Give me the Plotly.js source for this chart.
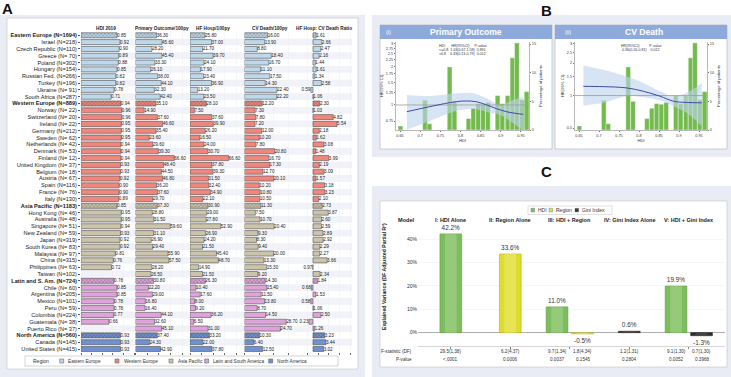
<!DOCTYPE html>
<html><head><meta charset="utf-8">
<script src="https://cdn.plot.ly/plotly-3.0.1.min.js"></script>
<style>html,body{margin:0;padding:0;background:#fff}#chart{width:731px;height:377px}</style>
</head><body><div id="chart"></div>
<script>
// ---------------- DATA ----------------
const regionNames = ['Eastern Europe','Western Europe','Asia Pacific','Latin and South America','North America'];
const rowLabels = [
 'Eastern Europe (N=1694)','Israel (N=218)','Czech Republic (N=110)','Greece (N= 70)','Poland (N=302)','Hungary (N=154)','Russian Fed. (N=266)','Turkey (N=196)','Ukraine (N= 91)','South Africa (N=287)',
 'Western Europe (N=889)','Norway (N= 22)','Switzerland (N= 20)','Ireland (N= 22)','Germany (N=212)','Sweden (N= 62)','Netherlands (N= 42)','Denmark (N= 53)','Finland (N= 12)','United Kingdom (N= 37)','Belgium (N= 18)','Austria (N= 67)','Spain (N=116)','France (N= 76)','Italy (N=130)',
 'Asia Pacific (N=1183)','Hong Kong (N= 46)','Australia (N= 48)','Singapore (N= 51)','New Zealand (N= 59)','Japan (N=319)','South Korea (N= 83)','Malaysia (N= 97)','China (N=315)','Philippines (N= 63)','Taiwan (N=102)',
 'Latin and S. Am. (N=724)','Chile (N= 60)','Argentina (N=205)','Mexico (N=101)','Peru (N= 59)','Colombia (N=224)','Guatemala (N= 38)','Puerto Rico (N= 37)',
 'North America (N=560)','Canada (N=145)','United States (N=415)'];
const rowRegion = [0,0,0,0,0,0,0,0,0,0, 1,1,1,1,1,1,1,1,1,1,1,1,1,1,1, 2,2,2,2,2,2,2,2,2,2,2, 3,3,3,3,3,3,3,3, 4,4,4];
const regionTotalRows = [0,10,25,36,44];
const hdi = [0.85,0.92,0.90,0.89,0.88,0.85,0.82,0.82,0.78,0.71, 0.94,0.96,0.96,0.95,0.95,0.95,0.94,0.94,0.94,0.93,0.93,0.92,0.90,0.90,0.89, 0.85,0.95,0.95,0.94,0.93,0.92,0.92,0.81,0.76,0.72,null, 0.78,0.85,0.85,0.78,0.78,0.77,0.66,null, 0.93,0.93,0.93];
const primaryOutcome = [36.30,45.60,28.20,45.40,33.30,26.10,38.00,44.10,32.30,42.40, 35.10,14.90,37.60,46.60,35.40,23.60,29.60,39.30,66.60,48.40,44.50,46.80,36.20,37.60,29.70, 37.30,28.80,31.50,59.60,31.10,26.90,29.40,55.90,57.50,28.20,26.50, 30.80,22.20,29.00,16.80,16.40,44.10,32.60,45.10, 37.40,24.30,42.90];
const hfHosp = [25.80,37.00,21.70,39.70,24.10,17.90,23.40,36.90,13.20,23.50, 28.10,7.50,37.60,39.90,26.20,16.50,24.00,30.70,66.60,37.80,39.30,31.50,32.40,34.90,22.10, 30.90,29.00,27.80,52.90,26.90,24.20,21.50,45.40,48.70,14.90,21.50, 26.30,10.40,17.60,8.00,9.20,36.20,6.50,31.00, 33.20,22.00,37.80];
const cvDeath = [16.00,13.90,8.80,18.40,16.70,11.10,17.50,14.30,22.40,22.20, 12.20,7.30,7.80,7.20,12.00,10.20,7.80,20.80,16.70,17.30,12.70,20.10,10.20,10.80,10.50, 11.30,7.50,10.70,20.40,9.30,8.30,9.40,20.00,13.30,15.30,9.20, 14.30,15.40,11.50,13.80,8.70,14.50,28.70,24.70, 10.30,6.40,12.50];
const hfCvRatio = [1.61,2.66,2.47,2.16,1.44,1.61,1.34,2.58,0.59,1.06, 2.30,1.03,4.82,5.54,2.18,1.62,3.08,1.48,3.99,2.19,3.09,1.57,3.18,3.23,2.10, 2.73,3.87,2.60,2.59,2.89,2.92,2.29,2.27,3.66,0.97,2.34, 1.84,0.68,1.53,0.58,1.06,2.50,0.23,1.26, 3.23,3.44,3.02];

// Panel B
const histHdi = [0.651,0.712,0.723,0.773,0.785,0.820,0.832,0.844,0.856,0.868,0.892,0.904,0.917,0.929,0.940,0.952,0.964];
const histPct = [0.7,5.2,1.1,11.0,5.0,2.0,3.8,4.6,4.5,4.8,6.0,4.6,6.0,12.6,15.2,5.3,6.7];
const poHdi = [0.667,0.70,0.73,0.76,0.79,0.815,0.84,0.865,0.89,0.915,0.94,0.956];
const poHr  = [0.887,0.935,0.98,1.025,1.062,1.075,1.06,1.0,0.935,0.885,0.857,0.846];
const poBandHdi = [0.667,0.724,0.791,0.832,0.873,0.898,0.931,0.956];
const poUpper = [1.197,1.176,1.234,1.234,1.094,1.0,1.094,1.161];
const poLower = [0.64,0.75,0.90,0.93,0.87,0.84,0.72,0.63];
const cvHdi = [0.661,0.711,0.769,0.811,0.853,0.886,0.919,0.957];
const cvHr  = [1.217,1.209,1.177,1.095,0.985,0.887,0.863,0.857];
const cvUpper = [1.897,1.73,1.50,1.31,1.095,0.985,1.06,1.31];
const cvLower = [0.81,0.857,0.985,0.965,0.90,0.798,0.694,0.52];
const hrRef = 1;

// Panel C
const models = ['I: HDI Alone','II: Region Alone','III: HDI + Region','IV: Gini Index Alone','V: HDI + Gini Index'];
const hdiR2 = [42.2, null, 11.0, null, 19.9];
const regionR2 = [null, 33.6, -0.5, null, null];
const giniR2 = [null, null, null, 0.6, -1.3];
const fStatHdi = ['29.5(1,38)', null, '9.7(1,34)', null, '9.1(1,30)'];
const pHdi = ['<.0001', null, '0.0037', null, '0.0052'];
const fStatRegion = [null, '6.2(4,37)', '1.8(4,34)', null, null];
const pRegion = [null, '0.0006', '0.1545', null, null];
const fStatGini = [null, null, null, '1.2(1,31)', '0.7(1,30)'];
const pGini = [null, null, null, '0.2804', '0.3968'];

// ---------------- LAYOUT HELPERS ----------------
const W = 731, H = 377;
const X = p => p / W;
const Y = p => 1 - p / H;
const FONT = 'Liberation Sans, Arial, sans-serif';
const regionColors = ['#bcd8ea','#ef877d','#cbc3aa','#e0a2da','#7090cf'];
const shapes = [], annotations = [];
function rect(x0, y0, x1, y1, fill, lc, lw) {
  shapes.push({type:'rect', xref:'paper', yref:'paper', x0:X(x0), x1:X(x1), y0:Y(y1), y1:Y(y0),
    fillcolor: fill, line:{color: lc || fill, width: lw || 0}, layer:'below'});
}
function ann(text, x, y, o) {
  o = o || {};
  annotations.push(Object.assign({text: text, xref:'paper', yref:'paper', x: X(x), y: Y(y),
    showarrow:false, xanchor:'center', yanchor:'middle',
    font:{family: FONT, size: 6, color:'#222'}}, o));
}

// backgrounds
rect(0, 15, 365, 377, '#e9ecf4');
rect(7, 18, 358, 369, '#ffffff', '#c4c4c4', 0.6);
rect(372, 15, 731, 157, '#e9ecf4');
rect(380, 25, 552, 149, '#ffffff', '#aab0bb', 0.6);
rect(380, 25, 552, 39, '#8eaadc');
rect(555, 25, 727, 149, '#ffffff', '#aab0bb', 0.6);
rect(555, 25, 727, 39, '#8eaadc');
rect(372, 186, 731, 377, '#e9ecf4');
rect(380, 201, 727, 367, '#ffffff', '#c4c4c4', 0.6);

// panel letters
ann('<b>A</b>', 7, 8, {font:{family:FONT, size:15, color:'#111'}});
ann('<b>B</b>', 546, 10, {font:{family:FONT, size:15, color:'#111'}});
ann('<b>C</b>', 546, 171, {font:{family:FONT, size:15, color:'#111'}});

// ---------------- PANEL A ----------------
const nRows = rowLabels.length;
const rowTop = 35.3, rowStep = 6.82;
const yDomA = [Y(rowTop + (nRows - 0.5) * rowStep), Y(rowTop - 0.5 * rowStep)];
const rowIdx = rowLabels.map((_, i) => i);
const isTotal = rowIdx.map(i => regionTotalRows.indexOf(i) >= 0);
const barColors = rowRegion.map(r => regionColors[r]);
const patShapes = isTotal.map(t => t ? 'x' : '');

// alternating light row bands
rowIdx.forEach(i => {
  if (i % 2 === 1) rect(81, rowTop + (i - 0.5) * rowStep, 352, rowTop + (i + 0.5) * rowStep, '#f1f3f9');
});

const colDefs = [
  {vals: hdi, ax: 'x', dom: [81, 134], range: [0, 1.25], head: 'HDI 2019', hx: 106, dt: 0.25},
  {vals: primaryOutcome, ax: 'x2', dom: [135.5, 188.5], range: [0, 91], head: 'Primary Outcome/100py', hx: 162, dt: 20},
  {vals: hfHosp, ax: 'x3', dom: [190, 243], range: [0, 91], head: 'HF Hosp/100py', hx: 213, dt: 20},
  {vals: cvDeath, ax: 'x4', dom: [244.5, 297.5], range: [0, 36.5], head: 'CV Death/100py', hx: 269.5, dt: 10},
  {vals: hfCvRatio, ax: 'x5', dom: [299, 352], range: [-1.64, 8.36], head: 'HF Hosp: CV Death Ratio', hx: 323.5, dt: 2, base: 1}
];
const traces = [];
const layout = {
  width: W, height: H, margin: {l:0, r:0, t:0, b:0},
  paper_bgcolor: 'rgba(0,0,0,0)', plot_bgcolor: 'rgba(0,0,0,0)',
  showlegend: false, font: {family: FONT}, bargap: 0.2
};
colDefs.forEach((c, k) => {
  const base = c.base || 0;
  traces.push({
    type:'bar', orientation:'h', xaxis: c.ax, yaxis:'y',
    y: rowIdx, x: c.vals.map(v => v == null ? null : v - base), base: base,
    width: 0.74,
    marker: {color: barColors, line:{color:'#505050', width:0.6},
      pattern:{shape: patShapes, fillmode:'overlay', fgcolor:'#444', size:2.6, solidity:0.4}},
    text: c.vals.map(v => v == null ? '' : v.toFixed(2)),
    textposition:'outside', constraintext:'none', cliponaxis:false,
    textfont:{family:FONT, size:4.6, color:'#222'}, hoverinfo:'skip'
  });
  const axName = k === 0 ? 'xaxis' : 'xaxis' + (k + 1);
  layout[axName] = {domain:[X(c.dom[0]), X(c.dom[1])], range: c.range, anchor:'y',
    showticklabels:false, ticks:'outside', ticklen:2, tickcolor:'#666', dtick: c.dt,
    tick0: 0, showgrid:true, gridcolor:'#eceef3', gridwidth:0.5, zeroline:false, showline:false, fixedrange:true};
  ann('<b>' + c.head + '</b>', c.hx, 29, {font:{family:FONT, size:4.7, color:'#222'}});
});
layout.yaxis = {domain: yDomA, range:[nRows - 0.5, -0.5], anchor:'x',
  tickvals: rowIdx, ticktext: rowLabels.map((t, i) => isTotal[i] ? '<b>' + t + '</b>' : t),
  tickfont:{family:FONT, size:5.6, color:'#1a1a1a'}, ticks:'outside', ticklen:2, tickcolor:'#555',
  showgrid:false, zeroline:false, showline:false, fixedrange:true};

// Panel A legend
rect(25, 356, 338, 366, '#ffffff', '#b8b8b8', 0.6);
ann('Region', 31, 361, {xanchor:'left', font:{family:FONT, size:5, color:'#333'}});
const legX = [61.7, 117, 171, 206.7, 270.7];
regionNames.forEach((n, i) => {
  rect(legX[i] - 2, 359, legX[i] + 2, 363, regionColors[i], '#555', 0.5);
  ann(n, legX[i] + 4.5, 361, {xanchor:'left', font:{family:FONT, size:4.7, color:'#333'}});
});

// ---------------- PANEL B ----------------
function panelB(idx, xName, yPct, yHr, dom, hrRange, hrTicks, title, numeral, curveX, curveY, bx, bu, bl, textLines) {
  const xa = 'x' + idx, yp = 'y' + yPct, yh = 'y' + yHr;
  traces.push({type:'bar', xaxis: xa, yaxis: yp, x: histHdi, y: histPct, width: 0.0118,
    marker:{color:'#74bb4f', line:{color:'#ffffff', width:0.4}}, hoverinfo:'skip'});
  traces.push({type:'scatter', mode:'lines', xaxis: xa, yaxis: yh, x: bx, y: bl,
    line:{color:'rgba(0,0,0,0)', width:0, shape:'spline'}, hoverinfo:'skip'});
  traces.push({type:'scatter', mode:'lines', xaxis: xa, yaxis: yh, x: bx, y: bu, fill:'tonexty',
    fillcolor:'rgba(190,212,238,0.62)', line:{color:'rgba(0,0,0,0)', width:0, shape:'spline'}, hoverinfo:'skip'});
  traces.push({type:'scatter', mode:'lines', xaxis: xa, yaxis: yh, x: [0.64, 0.97], y: [hrRef, hrRef],
    line:{color:'#9a9a9a', width:0.8}, hoverinfo:'skip'});
  traces.push({type:'scatter', mode:'lines', xaxis: xa, yaxis: yh, x: curveX, y: curveY,
    line:{color:'#3d4aa8', width:1, shape:'spline'}, hoverinfo:'skip'});
  const tf = {family:FONT, size:3.8, color:'#333'};
  layout[xName] = {domain:[X(dom[0]), X(dom[1])], range:[0.64, 0.97], anchor: yp,
    tickvals:[0.65,0.7,0.75,0.8,0.85,0.9,0.95], ticktext:['0.65','0.7','0.75','0.8','0.85','0.9','0.95'],
    tickfont: tf, ticks:'outside', ticklen:1.5, tickcolor:'#777', showline:true, linecolor:'#888', linewidth:0.6,
    showgrid:false, zeroline:false, fixedrange:true,
    title:{text:'HDI', font:{family:FONT, size:4.2, color:'#333'}, standoff:2}};
  layout['yaxis' + yPct] = {domain:[Y(130), Y(42)], range:[0, 15.35], anchor: xa, side:'right',
    tickvals:[0,5,10,15], tickfont: tf, ticks:'outside', ticklen:1.5, tickcolor:'#777',
    showline:true, linecolor:'#888', linewidth:0.6, showgrid:false, zeroline:false, fixedrange:true,
    title:{text:'Percentage of patients', font:{family:FONT, size:4.2, color:'#333'}, standoff:3}};
  layout['yaxis' + yHr] = {overlaying: yp, anchor: xa, side:'left', type:'log',
    range:[Math.log10(hrRange[0]), Math.log10(hrRange[1])], tickvals: hrTicks, ticktext: hrTicks.map(String),
    tickfont: tf, ticks:'outside', ticklen:1.5, tickcolor:'#777', showline:true, linecolor:'#888', linewidth:0.6,
    showgrid:false, zeroline:false, fixedrange:true,
    title:{text:'HR(95% CI)', font:{family:FONT, size:4.2, color:'#333'}, standoff:2}};
  const cx = (dom[0] + dom[1]) / 2;
  ann('<b>' + title + '</b>', (dom[0] + dom[1]) / 2 + 3, 32, {font:{family:FONT, size:8.6, color:'#ffffff'}});
  ann(numeral, dom[0] - 12, 32, {xanchor:'left', font:{family:FONT, size:5.5, color:'#ffffff'}});
  textLines.forEach((t, i) => ann(t, cx, 46 + i * 4, {font:{family:FONT, size:3.6, color:'#333'}}));
}
panelB(6, 'xaxis6', 6, 7, [396, 529], [0.638, 3.1], [0.75,1,1.25,1.5,1.75,2,2.25,2.5,2.75,3],
  'Primary Outcome', '(i)', poHdi, poHr, poBandHdi, poUpper, poLower,
  ['HDI      HR(95%CI)     P-value', '<=0.8  1.03(0.67-1.58)  0.891', '>0.8    0.33(0.13-0.79)  0.012']);
panelB(7, 'xaxis7', 8, 9, [575, 707], [0.48, 3.13], [0.5,1,1.5,2,2.5,3],
  'CV Death', '(ii)', cvHdi, cvHr, cvHdi, cvUpper, cvLower,
  ['HR(95%CI)          P-value', '0.36(0.16-0.81)    0.012']);

// ---------------- PANEL C ----------------
const cxDom = [418, 725];
const grpPx = 59.5, cat0Px = 450.8;
const cRange = [(cxDom[0] - cat0Px) / grpPx, (cxDom[1] - cat0Px) / grpPx];
const bw = 21.7 / grpPx, pairOff = 12.75 / grpPx;
function nFactors(i) { return [hdiR2[i], regionR2[i], giniR2[i]].filter(v => v != null).length; }
function slotCenter(i, which) {
  return nFactors(i) === 2 ? (which === 0 ? -pairOff : pairOff) : 0;
}
const series = [
  {vals: hdiR2, color:'#7dbd5e', hi:'#a9d693', line:'#5c9b43', first: true},
  {vals: regionR2, color:'#dedc2e', hi:'#eeed78', line:'#b3ae1d', first: false},
  {vals: giniR2, color:'#303030', hi:'#555555', line:'#1e1e1e', first: false}
];
series.forEach(s => {
  const xs = [], ys = [], offs = [], offsHi = [], txt = [];
  s.vals.forEach((v, i) => {
    if (v == null) return;
    const which = (s.first || hdiR2[i] == null) ? 0 : 1;
    xs.push(models[i]); ys.push(v);
    offs.push(slotCenter(i, which) - bw / 2);
    offsHi.push(slotCenter(i, which) - bw * 0.27);
    txt.push(v.toFixed(1) + '%');
  });
  traces.push({type:'bar', xaxis:'x8', yaxis:'y10', x: xs, y: ys, width: bw, offset: offs,
    marker:{color: s.color, line:{color: s.line, width:0.6}}, text: txt, textposition:'outside',
    constraintext:'none', cliponaxis:false, textfont:{family:FONT, size:6.4, color:'#333'}, hoverinfo:'skip'});
  // soft highlight for the cylindrical look
  traces.push({type:'bar', xaxis:'x8', yaxis:'y10', x: xs, y: ys, width: bw * 0.54, offset: offsHi,
    marker:{color: s.hi, opacity:0.55, line:{width:0}}, hoverinfo:'skip'});
});
layout.barmode = 'overlay';
layout.xaxis8 = {domain:[X(cxDom[0]), X(cxDom[1])], range: cRange, anchor:'y10', type:'category',
  categoryorder:'array', categoryarray: models, showticklabels:false, ticks:'outside', ticklen:2,
  tickcolor:'#888', showline:true, linecolor:'#bbb', linewidth:0.6, showgrid:false, zeroline:false, fixedrange:true};
layout.yaxis10 = {domain:[Y(346), Y(225)], range:[-5.7, 46], anchor:'x8',
  tickvals:[0,10,20,30,40], ticktext:['0%','10%','20%','30%','40%'], tickfont:{family:FONT, size:5, color:'#333'},
  ticks:'', showgrid:true, gridcolor:'#ececec', gridwidth:0.5, zeroline:true, zerolinecolor:'#999', zerolinewidth:0.8,
  showline:false, fixedrange:true};
ann('<b>Explained Variance (DF Adjusted Partial R²)</b>', 384, 277, {textangle:-90, font:{family:FONT, size:5.2, color:'#222'}});
ann('<b>Model</b>', 407, 220, {font:{family:FONT, size:5.6, color:'#222'}});
const yRowsF = 351.5, yRowsP = 359.5;
ann('F-statistic (DF)', 414, yRowsF, {xanchor:'right', font:{family:FONT, size:4.6, color:'#333'}});
ann('P-value', 414, yRowsP, {xanchor:'right', font:{family:FONT, size:4.6, color:'#333'}});
models.forEach((m, i) => {
  annotations.push({text:'<b>' + m + '</b>', xref:'x8', yref:'paper', x: i, y: Y(220), showarrow:false,
    font:{family:FONT, size:5.5, color:'#222'}, xanchor:'center', yanchor:'middle'});
  const stats = [[fStatHdi[i], pHdi[i]], [fStatRegion[i], pRegion[i]], [fStatGini[i], pGini[i]]].filter(s => s[0] != null);
  stats.forEach((s, j) => {
    const off = stats.length === 2 ? (j === 0 ? -pairOff : pairOff) : 0;
    [[s[0], yRowsF], [s[1], yRowsP]].forEach(([t, yy]) => annotations.push({text: t, xref:'x8', yref:'paper',
      x: i + off, y: Y(yy), showarrow:false, font:{family:FONT, size:4.6, color:'#333'}, xanchor:'center', yanchor:'middle'}));
  });
});
// Panel C legend
rect(528, 206, 612, 214.5, '#ffffff', '#c0c0c0', 0.5);
[['HDI', '#80c062', 531], ['Region', '#e3e23a', 549], ['Gini Index', '#383838', 575]].forEach(([t, c, x]) => {
  rect(x, 208.3, x + 3.6, 211.9, c, '#666', 0.4);
  ann(t, x + 5, 210.2, {xanchor:'left', font:{family:FONT, size:5, color:'#333'}});
});

layout.shapes = shapes;
layout.annotations = annotations;
Plotly.newPlot('chart', traces, layout, {staticPlot:true, displayModeBar:false});
</script></body></html>
